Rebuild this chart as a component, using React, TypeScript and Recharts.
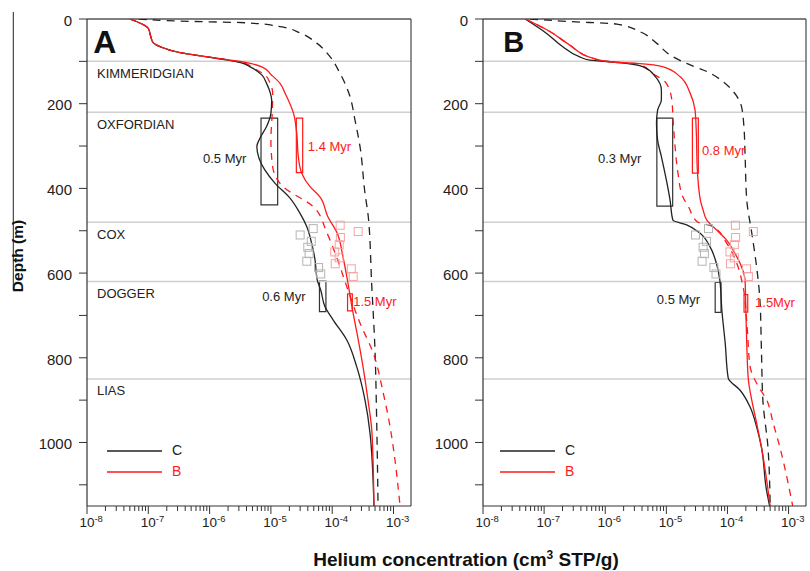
import React from 'react';
import {
  ComposedChart,
  Line,
  Scatter,
  XAxis,
  YAxis,
  ReferenceLine,
  ReferenceArea,
  ReferenceDot,
  Legend,
} from 'recharts';

const FONT = '"Liberation Sans", Arial, Helvetica, sans-serif';
const X_MIN = 1e-8;
const X_MAX = 1.93e-3;
const D_MAX = 1150;

// ---- axis ticks ----
const xMajorTicks = [1e-8, 1e-7, 1e-6, 1e-5, 1e-4, 1e-3];
const xMinorMultipliers = [2, 3, 4, 5, 6, 7, 8, 9];
const xTicks = [
  ...xMajorTicks,
  ...xMajorTicks.slice(0, 5).flatMap((m) => xMinorMultipliers.map((k) => k * m)),
].sort((a, b) => a - b);
const yTicks = [0, 100, 200, 300, 400, 500, 600, 700, 800, 900, 1000, 1100];
const yLabelTicks = [0, 200, 400, 600, 800, 1000];

// ---- stratigraphy ----
const boundaryDepths = [100, 220, 480, 620, 850];
const stratNames = ['KIMMERIDGIAN', 'OXFORDIAN', 'COX', 'DOGGER', 'LIAS'];

// ---- panel A curves (depth m, concentration cm3 STP/g) ----
const aBlack = [
  { d: 0, c: 5.0e-8 }, { d: 22, c: 1.0e-7 }, { d: 42, c: 1.1e-7 }, { d: 56, c: 1.2e-7 },
  { d: 67, c: 1.66e-7 }, { d: 79.5, c: 3.3e-7 }, { d: 89, c: 8.5e-7 }, { d: 97, c: 2.0e-6 },
  { d: 103, c: 3.2e-6 }, { d: 113, c: 4.6e-6 }, { d: 132, c: 7.1e-6 }, { d: 152, c: 8.5e-6 },
  { d: 175, c: 9.8e-6 }, { d: 191, c: 1.03e-5 }, { d: 223, c: 1.0e-5 }, { d: 254, c: 8.5e-6 },
  { d: 282, c: 6.6e-6 }, { d: 301, c: 5.9e-6 }, { d: 329, c: 6.4e-6 }, { d: 357, c: 8.0e-6 },
  { d: 388, c: 1.17e-5 }, { d: 423, c: 2.05e-5 }, { d: 459, c: 2.99e-5 }, { d: 490, c: 3.84e-5 },
  { d: 530, c: 4.63e-5 }, { d: 569, c: 5.25e-5 }, { d: 616, c: 5.7e-5 }, { d: 640, c: 6.5e-5 },
  { d: 679, c: 7.6e-5 }, { d: 711, c: 1.04e-4 }, { d: 758, c: 1.73e-4 }, { d: 821, c: 2.51e-4 },
  { d: 900, c: 3.43e-4 }, { d: 978, c: 4.14e-4 }, { d: 1150, c: 4.8e-4 },
];
const aRed = [
  { d: 0, c: 5.0e-8 }, { d: 22, c: 1.0e-7 }, { d: 42, c: 1.1e-7 }, { d: 56, c: 1.2e-7 },
  { d: 67, c: 1.66e-7 }, { d: 79.5, c: 3.3e-7 }, { d: 89, c: 8.9e-7 }, { d: 97, c: 2.15e-6 },
  { d: 103, c: 4.0e-6 }, { d: 113, c: 7.1e-6 }, { d: 132, c: 1.02e-5 }, { d: 152, c: 1.41e-5 },
  { d: 175, c: 1.7e-5 }, { d: 223, c: 2.34e-5 }, { d: 270, c: 2.64e-5 }, { d: 325, c: 2.8e-5 },
  { d: 364, c: 3.18e-5 }, { d: 396, c: 4.35e-5 }, { d: 420, c: 6.3e-5 }, { d: 467, c: 8.5e-5 },
  { d: 505, c: 1.2e-4 }, { d: 562, c: 1.5e-4 }, { d: 624, c: 1.81e-4 }, { d: 680, c: 2.1e-4 },
  { d: 742, c: 2.54e-4 }, { d: 821, c: 3.18e-4 }, { d: 900, c: 3.84e-4 }, { d: 978, c: 4.46e-4 },
  { d: 1150, c: 4.8e-4 },
];
const aRedDash = [
  { d: 0, c: 5.0e-8 }, { d: 22, c: 1.0e-7 }, { d: 42, c: 1.1e-7 }, { d: 56, c: 1.2e-7 },
  { d: 67, c: 1.66e-7 }, { d: 79.5, c: 3.3e-7 }, { d: 89, c: 8.7e-7 }, { d: 97, c: 2.1e-6 },
  { d: 104, c: 3.6e-6 }, { d: 116, c: 5.2e-6 }, { d: 132, c: 8.0e-6 }, { d: 152, c: 9.7e-6 },
  { d: 175, c: 1.07e-5 }, { d: 223, c: 1.05e-5 }, { d: 286, c: 1.0e-5 }, { d: 349, c: 1.07e-5 },
  { d: 396, c: 1.58e-5 }, { d: 443, c: 4.9e-5 }, { d: 505, c: 8.2e-5 }, { d: 562, c: 1.18e-4 },
  { d: 632, c: 1.73e-4 }, { d: 718, c: 2.84e-4 }, { d: 789, c: 4.68e-4 }, { d: 883, c: 6.8e-4 },
  { d: 963, c: 8.8e-4 }, { d: 1011, c: 9.9e-4 }, { d: 1150, c: 1.28e-3 },
];
const aBlackDash = [
  { d: 0, c: 7.0e-8 }, { d: 5, c: 3.3e-7 }, { d: 9, c: 4.0e-6 }, { d: 18, c: 1.41e-5 },
  { d: 33, c: 2.99e-5 }, { d: 57, c: 5.6e-5 }, { d: 89, c: 9.2e-5 }, { d: 128, c: 1.34e-4 },
  { d: 183, c: 1.95e-4 }, { d: 238, c: 2.35e-4 }, { d: 301, c: 2.84e-4 }, { d: 412, c: 3.43e-4 },
  { d: 467, c: 3.88e-4 }, { d: 624, c: 4.4e-4 }, { d: 782, c: 4.99e-4 }, { d: 939, c: 5.3e-4 },
  { d: 1150, c: 5.6e-4 },
];

// ---- panel B curves ----
const bBlack = [
  { d: 0, c: 4.9e-8 }, { d: 34, c: 1.1e-7 }, { d: 65, c: 2.0e-7 }, { d: 90, c: 3.9e-7 },
  { d: 97, c: 5.6e-7 }, { d: 103, c: 1.74e-6 }, { d: 113, c: 4.2e-6 }, { d: 136, c: 6.6e-6 },
  { d: 168, c: 8.3e-6 }, { d: 191, c: 8.3e-6 }, { d: 215, c: 7.2e-6 }, { d: 246, c: 6.9e-6 },
  { d: 286, c: 7.2e-6 }, { d: 325, c: 8.3e-6 }, { d: 380, c: 1.0e-5 }, { d: 427, c: 1.15e-5 },
  { d: 475, c: 1.28e-5 }, { d: 486, c: 2.15e-5 }, { d: 505, c: 3.5e-5 }, { d: 538, c: 5.2e-5 },
  { d: 577, c: 6.6e-5 }, { d: 616, c: 7.5e-5 }, { d: 687, c: 8.1e-5 }, { d: 766, c: 9.2e-5 },
  { d: 848, c: 1.03e-4 }, { d: 876, c: 1.6e-4 }, { d: 916, c: 2.35e-4 }, { d: 963, c: 3.0e-4 },
  { d: 1011, c: 3.6e-4 }, { d: 1112, c: 4.35e-4 }, { d: 1150, c: 4.9e-4 },
];
const bRed = [
  { d: 0, c: 4.9e-8 }, { d: 30, c: 1.26e-7 }, { d: 61, c: 2.6e-7 }, { d: 93, c: 6.4e-7 },
  { d: 101, c: 1.2e-6 }, { d: 105, c: 3.3e-6 }, { d: 113, c: 8.9e-6 }, { d: 136, c: 1.67e-5 },
  { d: 175, c: 2.45e-5 }, { d: 215, c: 2.95e-5 }, { d: 270, c: 3.1e-5 }, { d: 349, c: 3.2e-5 },
  { d: 427, c: 3.6e-5 }, { d: 451, c: 4.0e-5 }, { d: 475, c: 4.6e-5 }, { d: 498, c: 6.6e-5 },
  { d: 522, c: 9.7e-5 }, { d: 553, c: 1.32e-4 }, { d: 585, c: 1.7e-4 }, { d: 616, c: 1.94e-4 },
  { d: 687, c: 2.0e-4 }, { d: 766, c: 2.07e-4 }, { d: 852, c: 2.2e-4 }, { d: 900, c: 2.5e-4 },
  { d: 954, c: 3.0e-4 }, { d: 1011, c: 3.6e-4 }, { d: 1150, c: 5.0e-4 },
];
const bRedDash = [
  { d: 0, c: 4.9e-8 }, { d: 30, c: 1.26e-7 }, { d: 61, c: 2.6e-7 }, { d: 93, c: 6.4e-7 },
  { d: 101, c: 1.2e-6 }, { d: 105, c: 3.1e-6 }, { d: 113, c: 4.4e-6 }, { d: 124, c: 5.4e-6 },
  { d: 152, c: 1.0e-5 }, { d: 191, c: 1.23e-5 }, { d: 238, c: 1.29e-5 }, { d: 301, c: 1.39e-5 },
  { d: 364, c: 1.55e-5 }, { d: 420, c: 1.86e-5 }, { d: 443, c: 2.3e-5 }, { d: 479, c: 3.2e-5 },
  { d: 490, c: 5.8e-5 }, { d: 529, c: 9.7e-5 }, { d: 577, c: 1.42e-4 }, { d: 632, c: 1.8e-4 },
  { d: 727, c: 2.1e-4 }, { d: 821, c: 2.35e-4 }, { d: 860, c: 3.0e-4 }, { d: 900, c: 4.4e-4 },
  { d: 954, c: 5.6e-4 }, { d: 1011, c: 7.2e-4 }, { d: 1150, c: 1.17e-3 },
];
const bBlackDash = [
  { d: 0, c: 5.9e-8 }, { d: 6, c: 2.6e-7 }, { d: 12, c: 1.55e-6 }, { d: 30, c: 3.7e-6 },
  { d: 57, c: 6.9e-6 }, { d: 85, c: 1.15e-5 }, { d: 105, c: 2.15e-5 }, { d: 124, c: 4.6e-5 },
  { d: 148, c: 8.5e-5 }, { d: 172, c: 1.26e-4 }, { d: 207, c: 1.7e-4 }, { d: 254, c: 1.86e-4 },
  { d: 317, c: 1.94e-4 }, { d: 427, c: 2.07e-4 }, { d: 505, c: 2.5e-4 }, { d: 585, c: 3.0e-4 },
  { d: 663, c: 3.4e-4 }, { d: 782, c: 3.6e-4 }, { d: 900, c: 3.8e-4 }, { d: 1011, c: 4.6e-4 },
  { d: 1150, c: 5.0e-4 },
];

// ---- measured samples (hollow squares) ----
const graySamples = [
  { c: 3.0e-5, d: 510 }, { c: 4.9e-5, d: 495 }, { c: 4.55e-5, d: 525 }, { c: 4.0e-5, d: 539 },
  { c: 4.2e-5, d: 554 }, { c: 3.85e-5, d: 572 }, { c: 6.0e-5, d: 587 }, { c: 6.5e-5, d: 602 },
];
const redSamples = [
  { c: 1.35e-4, d: 487 }, { c: 2.65e-4, d: 502 }, { c: 1.36e-4, d: 516 }, { c: 1.3e-4, d: 533 },
  { c: 1.1e-4, d: 550 }, { c: 1.3e-4, d: 564 }, { c: 1.12e-4, d: 578 }, { c: 2.05e-4, d: 590 },
  { c: 2.2e-4, d: 608 },
];

// ---- boxes (age ranges) ----
const aBoxes = [
  { c1: 6.9e-6, c2: 1.29e-5, d1: 234, d2: 439, color: '#333' },
  { c1: 2.6e-5, c2: 3.3e-5, d1: 234, d2: 363, color: '#ff1a1a' },
  { c1: 6.2e-5, c2: 7.9e-5, d1: 619, d2: 691, color: '#333' },
  { c1: 1.78e-4, c2: 2.13e-4, d1: 649, d2: 689, color: '#ff1a1a' },
];
const bBoxes = [
  { c1: 7.0e-6, c2: 1.27e-5, d1: 234, d2: 442, color: '#333' },
  { c1: 2.67e-5, c2: 3.34e-5, d1: 234, d2: 364, color: '#ff1a1a' },
  { c1: 6.3e-5, c2: 7.85e-5, d1: 622, d2: 693, color: '#333' },
  { c1: 1.87e-4, c2: 2.15e-4, d1: 651, d2: 692, color: '#ff1a1a' },
];

// ---- text annotations (start point, baseline) ----
const aNotes = [
  { c: 7.8e-7, d: 340, text: '0.5 Myr', color: '#222' },
  { c: 4.0e-5, d: 312, text: '1.4 Myr', color: '#ff1a1a' },
  { c: 7.2e-6, d: 667, text: '0.6 Myr', color: '#222' },
  { c: 2.2e-4, d: 678, text: '1.5 Myr', color: '#ff1a1a' },
];
const bNotes = [
  { c: 7.6e-7, d: 340, text: '0.3 Myr', color: '#222' },
  { c: 3.84e-5, d: 321, text: '0.8 Myr', color: '#ff1a1a' },
  { c: 7.0e-6, d: 673, text: '0.5 Myr', color: '#222' },
  { c: 2.83e-4, d: 679, text: '1.5Myr', color: '#ff1a1a' },
];

const legendItems = [
  { name: 'C', color: '#222' },
  { name: 'B', color: '#ff1a1a' },
];

const BLACK = '#222';
const RED = '#ff1a1a';

const XTick = (props: any) => {
  const { x, y, payload } = props;
  const v = payload.value as number;
  const lg = Math.log10(v);
  const exp = Math.round(lg);
  const major = Math.abs(lg - exp) < 1e-6;
  return (
    <g>
      <line x1={x} x2={x} y1={y} y2={y + (major ? 8 : 5)} stroke="#333" strokeWidth={1} />
      {major && (
        <text x={x - 7.6} y={y + 21} fontSize={13.5} fontFamily={FONT} fill="#222">
          10
          <tspan dy={-5.5} fontSize={9.5}>
            {String(exp)}
          </tspan>
        </text>
      )}
    </g>
  );
};

const YTick = (props: any) => {
  const { x, y, payload } = props;
  const v = payload.value as number;
  const labeled = yLabelTicks.includes(v);
  return (
    <g>
      <line x1={x - 8} x2={x} y1={y} y2={y} stroke="#333" strokeWidth={1} />
      {labeled && (
        <text x={x - 15} y={y} dy="0.45em" textAnchor="end" fontSize={15} fontFamily={FONT} fill="#222">
          {v}
        </text>
      )}
    </g>
  );
};

const LegendBox = () => (
  <div style={{ fontFamily: FONT, fontSize: 14 }}>
    {legendItems.map((it) => (
      <div key={it.name} style={{ display: 'flex', alignItems: 'center', height: 21 }}>
        <svg width={55} height={4} style={{ display: 'block' }}>
          <line x1={0} x2={55} y1={2} y2={2} stroke={it.color} strokeWidth={1.5} />
        </svg>
        <span style={{ marginLeft: 10, color: it.color, lineHeight: '21px' }}>{it.name}</span>
      </div>
    ))}
  </div>
);

const squareShape = (color: string) => (p: any) => (
  <rect x={p.cx - 4} y={p.cy - 4} width={8} height={8} fill="none" stroke={color} strokeWidth={1} />
);

type PanelProps = {
  black: { d: number; c: number }[];
  red: { d: number; c: number }[];
  blackDash: { d: number; c: number }[];
  redDash: { d: number; c: number }[];
  boxes: typeof aBoxes;
  notes: typeof aNotes;
  letter: string;
  letterPos: { c: number; d: number; size: number };
  left: number;
  right: number;
  legendLeft: number;
  primary: boolean;
};

const xTitle = () => (
  <text x={466} y={566} textAnchor="middle" fontWeight="bold" fontSize={19} fontFamily={FONT} fill="#111">
    Helium concentration (cm
    <tspan dy={-7} fontSize={12}>
      3
    </tspan>
    <tspan dy={7}> STP/g)</tspan>
  </text>
);

const yTitle = () => (
  <g>
    <line x1={13.3} x2={13.3} y1={12} y2={290} stroke="#222" strokeWidth={1} />
    <text
      transform="translate(23,256) rotate(-90)"
      textAnchor="middle"
      fontWeight="bold"
      fontSize={15.5}
      fontFamily={FONT}
      fill="#111"
    >
      Depth (m)
    </text>
  </g>
);

const Panel = (p: PanelProps) => (
  <div style={{ position: 'absolute', left: 0, top: 0 }}>
    <ComposedChart
      width={810}
      height={571}
      layout="vertical"
      margin={{ top: 19, right: p.right, bottom: 35, left: p.left }}
    >
      <XAxis
        type="number"
        dataKey="c"
        scale="log"
        domain={[X_MIN, X_MAX]}
        allowDataOverflow
        ticks={xTicks}
        interval={0}
        tick={(tp: any) => <XTick {...tp} />}
        tickLine={false}
        tickSize={0}
        tickMargin={0}
        height={30}
        axisLine={{ stroke: '#333', strokeWidth: 1.2 }}
        label={p.primary ? xTitle : undefined}
      />
      <YAxis
        type="number"
        dataKey="d"
        domain={[0, D_MAX]}
        allowDataOverflow
        ticks={yTicks}
        interval={0}
        tick={(tp: any) => <YTick {...tp} />}
        tickLine={false}
        tickSize={0}
        tickMargin={0}
        width={60}
        axisLine={{ stroke: '#333', strokeWidth: 1.2 }}
        label={p.primary ? yTitle : undefined}
      />
      {boundaryDepths.map((d, i) => (
        <ReferenceLine
          key={'b' + d}
          y={d}
          stroke="#cfcfcf"
          strokeWidth={1.5}
          label={
            p.primary
              ? (lp: any) => (
                  <text
                    x={lp.viewBox.x + 10}
                    y={lp.viewBox.y + 16.5}
                    fontSize={13}
                    fontFamily={FONT}
                    fill="#222"
                  >
                    {stratNames[i]}
                  </text>
                )
              : undefined
          }
        />
      ))}
      <ReferenceLine y={0} stroke="#555" strokeWidth={1.3} ifOverflow="visible" />
      <ReferenceLine x={X_MAX} stroke="#555" strokeWidth={1.3} ifOverflow="visible" />
      {p.boxes.map((b, i) => (
        <ReferenceArea
          key={'box' + i}
          x1={b.c1}
          x2={b.c2}
          y1={b.d1}
          y2={b.d2}
          fill="none"
          fillOpacity={0}
          stroke={b.color}
          strokeWidth={1.2}
          ifOverflow="visible"
        />
      ))}
      <Scatter data={graySamples} shape={squareShape('#b4b4b4')} isAnimationActive={false} legendType="none" />
      <Scatter data={redSamples} shape={squareShape('#f5a3a3')} isAnimationActive={false} legendType="none" />
      <Line
        data={p.blackDash}
        dataKey="c"
        type="monotone"
        stroke={BLACK}
        strokeWidth={1.3}
        strokeDasharray="8 6"
        dot={false}
        isAnimationActive={false}
        legendType="none"
      />
      <Line
        data={p.redDash}
        dataKey="c"
        type="monotone"
        stroke={RED}
        strokeWidth={1.3}
        strokeDasharray="7 6"
        dot={false}
        isAnimationActive={false}
        legendType="none"
      />
      <Line
        data={p.black}
        dataKey="c"
        name="C"
        type="monotone"
        stroke={BLACK}
        strokeWidth={1.3}
        dot={false}
        isAnimationActive={false}
      />
      <Line
        data={p.red}
        dataKey="c"
        name="B"
        type="monotone"
        stroke={RED}
        strokeWidth={1.3}
        dot={false}
        isAnimationActive={false}
      />
      {p.notes.map((n, i) => (
        <ReferenceDot
          key={'n' + i}
          x={n.c}
          y={n.d}
          r={0}
          ifOverflow="visible"
          shape={(sp: any) => (
            <text x={sp.cx} y={sp.cy} fontSize={13} fontFamily={FONT} fill={n.color}>
              {n.text}
            </text>
          )}
        />
      ))}
      <ReferenceDot
        x={p.letterPos.c}
        y={p.letterPos.d}
        r={0}
        ifOverflow="visible"
        shape={(sp: any) => (
          <text x={sp.cx} y={sp.cy} fontSize={p.letterPos.size} fontWeight="bold" fontFamily={FONT} fill="#111">
            {p.letter}
          </text>
        )}
      />
      <Legend
        layout="vertical"
        align="center"
        verticalAlign="middle"
        wrapperStyle={{ left: p.legendLeft, top: 440, width: 120, height: 44 }}
        content={() => <LegendBox />}
      />
    </ComposedChart>
  </div>
);

export default function App() {
  return (
    <div style={{ position: 'absolute', left: 0, top: 0, width: 810, height: 571, background: '#fff' }}>
      <Panel
        black={aBlack}
        red={aRed}
        blackDash={aBlackDash}
        redDash={aRedDash}
        boxes={aBoxes}
        notes={aNotes}
        letter="A"
        letterPos={{ c: 1.27e-8, d: 79.6, size: 32 }}
        left={27}
        right={399}
        legendLeft={107}
        primary={true}
      />
      <Panel
        black={bBlack}
        red={bRed}
        blackDash={bBlackDash}
        redDash={bRedDash}
        boxes={bBoxes}
        notes={bNotes}
        letter="B"
        letterPos={{ c: 2.15e-8, d: 77, size: 29 }}
        left={423}
        right={4}
        legendLeft={500}
        primary={false}
      />
    </div>
  );
}
